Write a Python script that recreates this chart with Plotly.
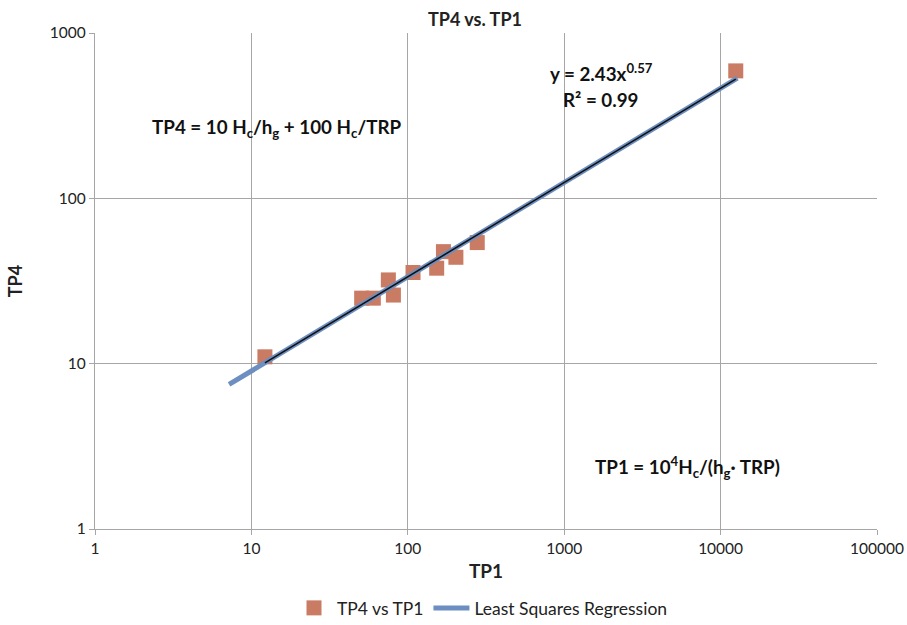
import numpy as np
import plotly.graph_objects as go

# Data
tp1 = [12.2, 50.7, 60.2, 75.1, 80.9, 108, 153, 169, 203, 278, 12500]
tp4 = [11.0, 24.9, 24.9, 32.1, 26.0, 35.6, 37.8, 47.6, 44.0, 54.0, 590]

# Regression y = a * x^b
coef_a = 2.43
coef_b = 0.57
reg_x_range = [7.2, 12800]
trend_x_range = [12.2, 12500]

x_ticks = [1, 10, 100, 1000, 10000, 100000]
x_tick_labels = ["1", "10", "100", "1000", "10000", "100000"]
y_ticks = [1, 10, 100, 1000]
y_tick_labels = ["1", "10", "100", "1000"]

FONT = "Lato, Arial, sans-serif"

reg_x = np.logspace(np.log10(reg_x_range[0]), np.log10(reg_x_range[1]), 60)
reg_y = coef_a * reg_x ** coef_b
tr_x = np.logspace(np.log10(trend_x_range[0]), np.log10(trend_x_range[1]), 60)
tr_y = coef_a * tr_x ** coef_b

fig = go.Figure()
fig.add_trace(go.Scatter(
    x=tp1, y=tp4, mode="markers", name="TP4 vs TP1",
    marker=dict(symbol="square", size=15, color="#C97B63"),
))
fig.add_trace(go.Scatter(
    x=reg_x, y=reg_y, mode="lines", name="Least Squares Regression",
    line=dict(color="#6C8EC0", width=5),
))
fig.add_trace(go.Scatter(
    x=tr_x, y=tr_y, mode="lines", showlegend=False,
    line=dict(color="#111111", width=1.6),
))

axis_common = dict(
    type="log", showgrid=True, gridcolor="#A6A6A6", gridwidth=1.3,
    showline=True, linecolor="#A6A6A6", linewidth=1.3,
    ticks="outside", ticklen=5, tickcolor="#A6A6A6",
    tickfont=dict(family=FONT, size=15.5, color="#222222"),
    zeroline=False, automargin=False, ticklabeloverflow="allow",
)

# page body margin is removed below, so the figure sits at the window origin
DX, DY = 0, 0
W, H = 907, 625
# desired plot area in window pixels
PX0, PX1, PY0, PY1 = 95, 877, 33, 529
L, T = PX0 - DX, PY0 - DY
R, B = W - (PX1 - DX), H - (PY1 - DY)

fig.update_layout(
    width=W, height=H,
    margin=dict(l=L, r=R, t=T, b=B, autoexpand=False),
    paper_bgcolor="white", plot_bgcolor="white",
    font=dict(family=FONT, color="#222222"),
    title=dict(text="<b>TP4 vs. TP1</b>", x=(475 - DX) / W, xanchor="center", xref="container",
               y=1 - (20 - DY) / H, yanchor="middle", yref="container",
               font=dict(size=18, family=FONT)),
    xaxis=dict(axis_common, range=[0, 5], tickvals=x_ticks, ticktext=x_tick_labels,
               title=dict(text="<b>TP1</b>", font=dict(size=19, family=FONT), standoff=8)),
    yaxis=dict(axis_common, range=[0, 3], tickvals=y_ticks, ticktext=y_tick_labels,
               title=dict(text="<b>TP4</b>", font=dict(size=18, family=FONT), standoff=22)),
    legend=dict(orientation="h", x=(482 - DX) / W, xanchor="center", xref="container",
                y=1 - (608 - DY) / H, yanchor="middle", yref="container",
                font=dict(size=17.5, family=FONT, color="#222222"), itemwidth=36),
    showlegend=True,
)

ann_font = dict(size=18.8, family=FONT, color="#111111")
pw, ph = PX1 - PX0, PY1 - PY0


def ann(px, py, text):
    fig.add_annotation(xref="paper", yref="paper", x=(px - PX0) / pw, y=(PY1 - py) / ph,
                       xanchor="center", yanchor="middle",
                       text=text, showarrow=False, font=ann_font)


ann(601, 72, "<b>y = 2.43x<sup>0.57</sup></b>")
ann(601, 99, "<b>R² = 0.99</b>")
ann(276, 128, "<b>TP4 = 10 H<sub>c</sub>/h<sub>g</sub> + 100 H<sub>c</sub>/TRP</b>")
ann(687, 467, "<b>TP1 = 10<sup>4</sup>H<sub>c</sub>/(h<sub>g</sub>· TRP)</b>")

fig.write_html(
    "out.html",
    config={"displayModeBar": False},
    post_script="document.body.style.margin='0';"
                "document.documentElement.style.overflow='hidden';"
                "document.body.style.overflow='hidden';",
)
